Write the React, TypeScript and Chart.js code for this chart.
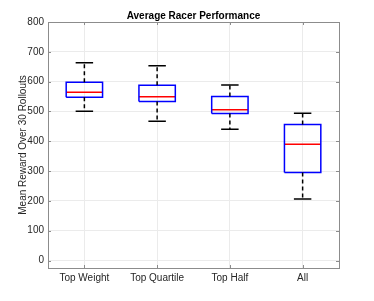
import React, { useEffect, useRef } from "react";
import { Chart, registerables } from "chart.js";

Chart.register(...registerables);

const chartTitle = "Average Racer Performance";
const yAxisTitle = "Mean Reward Over 30 Rollouts";
const categories = ["Top Weight", "Top Quartile", "Top Half", "All"];
const lowerWhisker = [501, 467, 440, 206];
const q1 = [548, 533, 493, 295];
const median = [564, 549, 506, 390];
const q3 = [598, 588, 550, 456];
const upperWhisker = [663, 653, 589, 494];
const yTicks = [0, 100, 200, 300, 400, 500, 600, 700, 800];

const BOX_HALF = 0.25;
const CAP_HALF = 0.12;
const FONT = "'Liberation Sans', Arial, Helvetica, sans-serif";

type P = { x: number; y: number | null };
const gap = (x: number): P => ({ x, y: null });

function boxPoints(): P[] {
  const pts: P[] = [];
  categories.forEach((_, i) => {
    const x = i + 1;
    pts.push(
      { x: x - BOX_HALF, y: q1[i] },
      { x: x + BOX_HALF, y: q1[i] },
      { x: x + BOX_HALF, y: q3[i] },
      { x: x - BOX_HALF, y: q3[i] },
      { x: x - BOX_HALF, y: q1[i] },
      gap(x)
    );
  });
  return pts;
}
function medianPoints(): P[] {
  const pts: P[] = [];
  categories.forEach((_, i) => {
    const x = i + 1;
    pts.push({ x: x - BOX_HALF, y: median[i] }, { x: x + BOX_HALF, y: median[i] }, gap(x));
  });
  return pts;
}
function whiskerPoints(): P[] {
  const pts: P[] = [];
  categories.forEach((_, i) => {
    const x = i + 1;
    pts.push({ x, y: q3[i] }, { x, y: upperWhisker[i] }, gap(x));
    pts.push({ x, y: q1[i] }, { x, y: lowerWhisker[i] }, gap(x));
  });
  return pts;
}
function capPoints(): P[] {
  const pts: P[] = [];
  categories.forEach((_, i) => {
    const x = i + 1;
    pts.push({ x: x - CAP_HALF, y: upperWhisker[i] }, { x: x + CAP_HALF, y: upperWhisker[i] }, gap(x));
    pts.push({ x: x - CAP_HALF, y: lowerWhisker[i] }, { x: x + CAP_HALF, y: lowerWhisker[i] }, gap(x));
  });
  return pts;
}

const framePlugin = {
  id: "frame",
  afterDraw(chart: any) {
    const { ctx, chartArea } = chart;
    const xs = chart.scales.x;
    const ys = chart.scales.y;
    ctx.save();
    ctx.strokeStyle = "#8c8c8c";
    ctx.lineWidth = 1;
    ctx.strokeRect(
      Math.round(chartArea.left) + 0.5,
      Math.round(chartArea.top) + 0.5,
      Math.round(chartArea.right - chartArea.left),
      Math.round(chartArea.bottom - chartArea.top)
    );
    ctx.beginPath();
    const tl = 3;
    xs.ticks.forEach((t: any) => {
      const px = Math.round(xs.getPixelForValue(t.value)) + 0.5;
      ctx.moveTo(px, chartArea.bottom);
      ctx.lineTo(px, chartArea.bottom - tl);
      ctx.moveTo(px, chartArea.top);
      ctx.lineTo(px, chartArea.top + tl);
    });
    ys.ticks.forEach((t: any) => {
      const py = Math.round(ys.getPixelForValue(t.value)) + 0.5;
      ctx.moveTo(chartArea.left, py);
      ctx.lineTo(chartArea.left + tl, py);
      ctx.moveTo(chartArea.right, py);
      ctx.lineTo(chartArea.right - tl, py);
    });
    ctx.stroke();
    // title centred over the plot area
    ctx.fillStyle = "#000000";
    ctx.font = `bold 10px ${FONT}`;
    ctx.textAlign = "center";
    ctx.textBaseline = "middle";
    ctx.fillText(chartTitle, (chartArea.left + chartArea.right) / 2, chartArea.top - 6);
    ctx.restore();
  },
};

export default function App() {
  const ref = useRef<HTMLCanvasElement>(null);
  useEffect(() => {
    if (!ref.current) return;
    const common = { showLine: true, spanGaps: false, pointRadius: 0, fill: false, tension: 0 };
    const chart = new Chart(ref.current, {
      type: "scatter",
      data: {
        datasets: [
          { ...common, data: whiskerPoints(), borderColor: "#000000", borderWidth: 1.5, borderDash: [4, 3] },
          { ...common, data: capPoints(), borderColor: "#000000", borderWidth: 1.5 },
          { ...common, data: boxPoints(), borderColor: "#0000ff", borderWidth: 1.5 },
          { ...common, data: medianPoints(), borderColor: "#ff0000", borderWidth: 1.5 },
        ] as any,
      },
      options: {
        animation: false,
        responsive: false,
        maintainAspectRatio: false,
        layout: { padding: { left: 0, right: 35, top: 22, bottom: 0 } },
        plugins: {
          legend: { display: false },
          tooltip: { enabled: false },
          title: { display: false },
        },
        scales: {
          x: {
            type: "linear",
            min: 0.5,
            max: 4.5,
            afterBuildTicks: (s: any) => {
              s.ticks = categories.map((_, i) => ({ value: i + 1 }));
            },
            afterFit: (s: any) => {
              s.height = 33;
            },
            ticks: {
              callback: (v: any) => categories[Math.round(v) - 1] ?? "",
              color: "#262626",
              font: { family: FONT, size: 10 },
              padding: 4,
              maxRotation: 0,
              autoSkip: false,
            },
            grid: { color: "#ebebeb", tickLength: 0, drawTicks: false },
            border: { display: false },
          },
          y: {
            type: "linear",
            min: -25,
            max: 800,
            afterBuildTicks: (s: any) => {
              s.ticks = yTicks.map((v) => ({ value: v }));
            },
            afterFit: (s: any) => {
              s.width = 48;
            },
            ticks: {
              color: "#262626",
              font: { family: FONT, size: 10 },
              padding: 4,
            },
            title: {
              display: true,
              text: yAxisTitle,
              color: "#262626",
              font: { family: FONT, size: 10 },
              padding: { top: 17, bottom: 2 },
            },
            grid: { color: "#ebebeb", tickLength: 0, drawTicks: false },
            border: { display: false },
          },
        },
      },
      plugins: [framePlugin],
    });
    return () => chart.destroy();
  }, []);
  return (
    <div style={{ position: "fixed", left: 0, top: 0, width: 374, height: 301, background: "#fff" }}>
      <canvas ref={ref} width={374} height={301} style={{ width: 374, height: 301 }} />
    </div>
  );
}
